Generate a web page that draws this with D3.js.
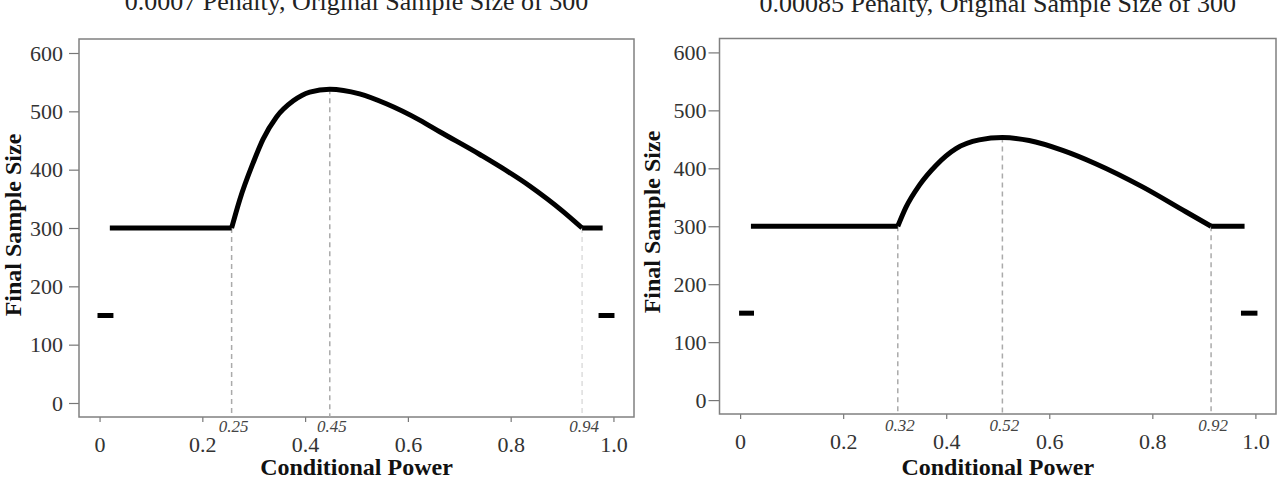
<!DOCTYPE html>
<html>
<head>
<meta charset="utf-8">
<script src="https://cdn.jsdelivr.net/npm/d3@7"></script>
<style>
  body { margin: 0; background: #fff; }
  svg text { font-family: "Liberation Serif", "Times New Roman", serif; }
</style>
</head>
<body>
<svg id="chart" width="1284" height="479"></svg>
<script>
// fælles akser
const xTicks = [0, 0.2, 0.4, 0.6, 0.8, 1.0];
const xTickLabels = ["0", "0.2", "0.4", "0.6", "0.8", "1.0"];
const yTicks = [0, 100, 200, 300, 400, 500, 600];
const xTitle = "Conditional Power";
const yTitle = "Final Sample Size";

// venstre graf
const leftTitle = "0.0007 Penalty, Original Sample Size of 300";
const leftCurve = [
  [0.02, 300], [0.257, 300], [0.273, 349], [0.299, 412], [0.318, 452],
  [0.344, 490], [0.377, 518], [0.409, 533], [0.448, 538], [0.506, 530],
  [0.558, 513], [0.623, 485], [0.662, 465], [0.74, 426], [0.837, 372],
  [0.901, 329], [0.939, 300], [0.979, 300]
];
const leftLow = [
  [[-0.004, 150], [0.027, 150]],
  [[0.971, 150], [1.002, 150]]
];
const leftBreaks = [0.257, 0.448, 0.939];
const leftBreakValues = [300, 538, 300];
const leftBreakLabels = ["0.25", "0.45", "0.94"];

// højre graf
const rightTitle = "0.00085 Penalty, Original Sample Size of 300";
const rightCurve = [
  [0.021, 300], [0.306, 300], [0.322, 333], [0.348, 371], [0.38, 405],
  [0.419, 434], [0.464, 449], [0.509, 453], [0.561, 448], [0.626, 431],
  [0.69, 408], [0.781, 368], [0.865, 325], [0.914, 300], [0.979, 300]
];
const rightLow = [
  [[-0.002, 150], [0.027, 150]],
  [[0.972, 150], [1.004, 150]]
];
const rightBreaks = [0.306, 0.509, 0.914];
const rightBreakValues = [300, 453, 300];
const rightBreakLabels = ["0.32", "0.52", "0.92"];

const svg = d3.select("#chart");

function drawPanel(p) {
  var g = svg.append("g");

  // scales (R-style 4% extension)
  var x = d3.scaleLinear().domain([-0.04, 1.04]).range([p.left, p.right]);
  var y = d3.scaleLinear().domain([-24, 624]).range([p.bottom, p.top]);

  // titel
  g.append("text")
    .attr("x", (x(0) + x(1)) / 2)
    .attr("y", p.titleY)
    .attr("text-anchor", "middle")
    .style("font-size", "26px")
    .style("fill", "#222")
    .text(p.title);

  // y akse
  var yAxis = g.append("g")
    .attr("transform", "translate(" + p.left + ",0)")
    .call(d3.axisLeft(y).tickValues(yTicks).tickSize(p.yTickSize).tickPadding(p.yPad));
  yAxis.select(".domain").remove();
  yAxis.selectAll("line").attr("stroke", "#777").attr("stroke-width", 1.2);
  yAxis.selectAll("text")
    .style("font-family", "Liberation Serif, serif")
    .style("font-size", "22px")
    .attr("fill", "#333");

  // x akse
  var xAxis = g.append("g")
    .attr("transform", "translate(0," + p.bottom + ")")
    .call(d3.axisBottom(x).tickValues(xTicks).tickSize(5)
      .tickFormat(function (d, i) { return xTickLabels[i]; }));
  xAxis.select(".domain").remove();
  xAxis.selectAll("line").attr("stroke", "#777").attr("stroke-width", 1.2);
  xAxis.selectAll("text")
    .attr("y", p.xLabelY - p.bottom)
    .attr("dy", 0)
    .style("font-family", "Liberation Serif, serif")
    .style("font-size", "22px")
    .attr("fill", "#333");

  // ramme
  g.append("rect")
    .attr("x", p.left)
    .attr("y", p.top)
    .attr("width", p.right - p.left)
    .attr("height", p.bottom - p.top)
    .attr("fill", "none")
    .attr("stroke", "#808080")
    .attr("stroke-width", 1.5);

  // stiplede linjer ved knækpunkter
  g.selectAll(".brk")
    .data(p.breaks)
    .enter()
    .append("line")
    .attr("x1", function (d) { return x(d); })
    .attr("x2", function (d) { return x(d); })
    .attr("y1", function (d, i) { return y(p.breakValues[i]); })
    .attr("y2", p.bottom)
    .attr("stroke", function (d, i) { return p.faintLast && i === p.breaks.length - 1 ? "#ddd" : "#aaa"; })
    .attr("stroke-width", 1.5)
    .attr("stroke-dasharray", "5,4");

  g.selectAll(".brkLabel")
    .data(p.breaks)
    .enter()
    .append("text")
    .attr("x", function (d) { return x(d) + 2; })
    .attr("y", p.breakLabelY)
    .attr("text-anchor", "middle")
    .style("font-size", "17px")
    .style("font-style", "italic")
    .style("fill", "#444")
    .text(function (d, i) { return p.breakLabels[i]; });

  // kurven: flade stykker lige, midten glat
  var straight = d3.line()
    .x(function (d) { return x(d[0]); })
    .y(function (d) { return y(d[1]); });
  var smooth = d3.line()
    .curve(d3.curveMonotoneX)
    .x(function (d) { return x(d[0]); })
    .y(function (d) { return y(d[1]); });

  var c = p.curve;
  [c.slice(0, 2), c.slice(-2)].forEach(function (seg) {
    g.append("path").datum(seg)
      .attr("d", straight)
      .attr("fill", "none")
      .attr("stroke", "#000")
      .attr("stroke-width", 5);
  });
  g.append("path").datum(c.slice(1, -1))
    .attr("d", smooth)
    .attr("fill", "none")
    .attr("stroke", "#000")
    .attr("stroke-width", 5)
    .attr("stroke-linejoin", "round");

  p.low.forEach(function (seg) {
    g.append("path").datum(seg)
      .attr("d", straight)
      .attr("fill", "none")
      .attr("stroke", "#000")
      .attr("stroke-width", 5);
  });

  // aksetitler
  g.append("text")
    .attr("x", (x(0) + x(1)) / 2)
    .attr("y", p.xTitleY)
    .attr("text-anchor", "middle")
    .style("font-size", "24px")
    .style("font-weight", "bold")
    .style("fill", "#111")
    .text(xTitle);

  g.append("text")
    .attr("transform", "translate(" + p.yTitleX + "," + p.yTitleCY + ") rotate(-90)")
    .attr("text-anchor", "middle")
    .style("font-size", "24px")
    .style("font-weight", "bold")
    .style("fill", "#111")
    .text(yTitle);
}

drawPanel({
  title: leftTitle, curve: leftCurve, low: leftLow,
  breaks: leftBreaks, breakValues: leftBreakValues, breakLabels: leftBreakLabels,
  left: 79, right: 634, top: 39, bottom: 417, faintLast: true,
  titleY: 10, xLabelY: 452, breakLabelY: 432, xTitleY: 475,
  yTickSize: 10, yPad: 6, yTitleX: 21, yTitleCY: 225
});

drawPanel({
  title: rightTitle, curve: rightCurve, low: rightLow,
  breaks: rightBreaks, breakValues: rightBreakValues, breakLabels: rightBreakLabels,
  left: 719.5, right: 1276, top: 38.5, bottom: 414, faintLast: false,
  titleY: 12, xLabelY: 449, breakLabelY: 431, xTitleY: 475,
  yTickSize: 11, yPad: 2, yTitleX: 660, yTitleCY: 222
});
</script>
</body>
</html>
